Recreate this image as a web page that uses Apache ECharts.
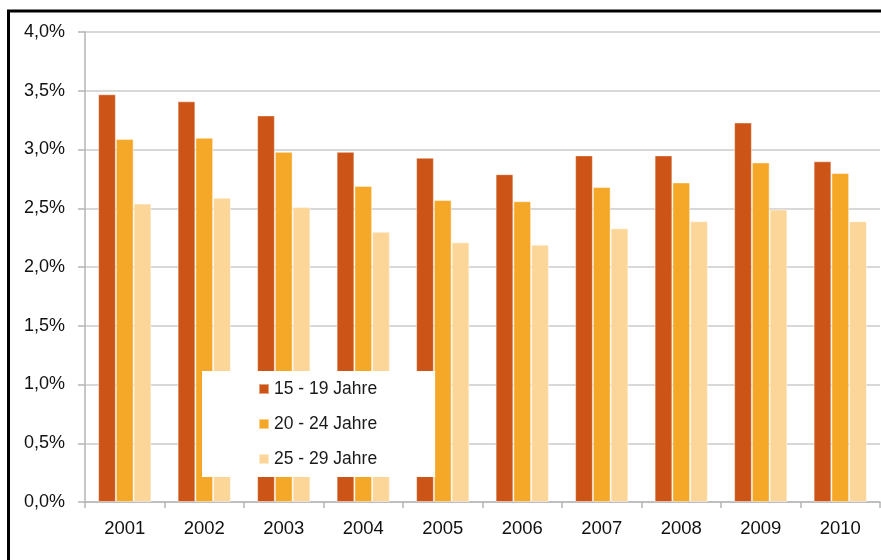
<!DOCTYPE html>
<html>
<head>
<meta charset="utf-8">
<script src="https://cdn.jsdelivr.net/npm/echarts@6/dist/echarts.min.js"></script>
<style>
  html, body { margin: 0; padding: 0; background: #fff; }
  #chart { width: 881px; height: 560px; }
</style>
</head>
<body>
<div id="chart"></div>
<script>
// Jahre (Kategorien)
const years = ["2001", "2002", "2003", "2004", "2005", "2006", "2007", "2008", "2009", "2010"];
// Werte in Prozent
const age15to19 = [3.47, 3.41, 3.29, 2.98, 2.93, 2.79, 2.95, 2.95, 3.23, 2.90];
const age20to24 = [3.09, 3.10, 2.98, 2.69, 2.57, 2.56, 2.68, 2.72, 2.89, 2.80];
const age25to29 = [2.54, 2.59, 2.51, 2.30, 2.21, 2.19, 2.33, 2.39, 2.49, 2.39];
const seriesNames = ["15 - 19 Jahre", "20 - 24 Jahre", "25 - 29 Jahre"];
const colors = ["#cb5416", "#f5a828", "#fcd699"];

const chart = echarts.init(document.getElementById("chart"));
const font = "Liberation Sans, Arial, sans-serif";

function bar(name, data, color) {
  return {
    name: name,
    type: "bar",
    data: data,
    barGap: "0%",
    barCategoryGap: "33%",
    itemStyle: { color: color, borderColor: "rgba(255,255,255,0.45)", borderWidth: 1 },
    z: 2
  };
}

chart.setOption({
  animation: false,
  color: colors,
  grid: { left: 85, right: 1, top: 32, bottom: 58, containLabel: false },
  legend: {
    orient: "vertical",
    left: 202,
    top: 371,
    backgroundColor: "#fff",
    padding: [9, 58, 9, 56],
    itemWidth: 10,
    itemHeight: 10,
    itemGap: 17,
    icon: "rect",
    data: seriesNames,
    textStyle: { fontFamily: font, fontSize: 17.5, color: "#1a1a1a", lineHeight: 18 },
    z: 10
  },
  xAxis: {
    type: "category",
    data: years,
    axisLine: { lineStyle: { color: "#b5b5b5", width: 1.5 } },
    axisTick: { show: true, length: 6, lineStyle: { color: "#b5b5b5", width: 1.5 } },
    axisLabel: { fontFamily: font, fontSize: 18.5, color: "#111", margin: 17 }
  },
  yAxis: {
    type: "value",
    min: 0,
    max: 4,
    interval: 0.5,
    axisLine: { show: true, lineStyle: { color: "#b5b5b5", width: 1.5 } },
    axisTick: { show: true, length: 7, lineStyle: { color: "#b5b5b5", width: 1.5 } },
    splitLine: { lineStyle: { color: "#cbcbcb", width: 1.5 } },
    axisLabel: {
      fontFamily: font, fontSize: 18, color: "#111", margin: 20,
      formatter: function (v) { return v.toFixed(1).replace(".", ",") + "%"; }
    }
  },
  graphic: [{
    type: "rect",
    shape: { x: 8.5, y: 11, width: 1000, height: 700 },
    style: { fill: "none", stroke: "#000", lineWidth: 3 },
    silent: true
  }],
  series: [
    bar(seriesNames[0], age15to19, colors[0]),
    bar(seriesNames[1], age20to24, colors[1]),
    bar(seriesNames[2], age25to29, colors[2])
  ]
});
</script>
</body>
</html>
